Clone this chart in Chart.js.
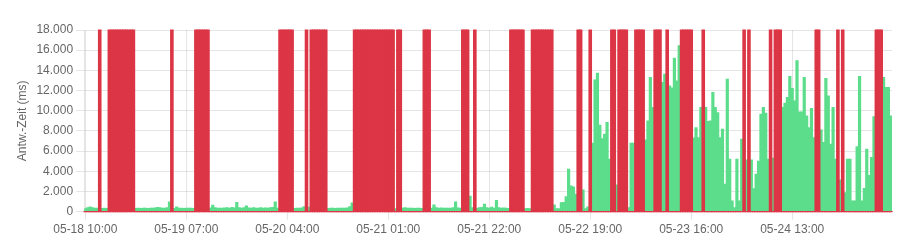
<!DOCTYPE html>
<html>
<head>
<meta charset="utf-8">
<script src="https://cdn.jsdelivr.net/npm/chart.js@4.4.1/dist/chart.umd.min.js"></script>
<style>
    body { margin: 0; background: #fff; }
    #wrap { width: 923px; height: 250px; }
</style>
</head>
<body>
<div id="wrap"><canvas id="pingChart"></canvas></div>
<script>
// one slot = one 30 minute heartbeat, first slot is 05-18 10:00
const startTime = "2024-05-18T10:00:00";
const slotMinutes = 30;

// response time in ms per slot, null = service down
const ping = [
    300, 380, 460, 400, 330, 340, null, 320, 340, 310, null, null,
    null, null, null, null, null, null, null, null, null, 320, 330, 310,
    340, 330, 320, 350, 330, 360, 420, 380, 340, 350, 400, 960,
    null, 320, 460, 340, 330, 320, 350, 330, 340, 320, null, null,
    null, null, null, null, 360, 630, 380, 340, 350, 330, 360, 380,
    350, 420, 360, 900, 400, 350, 380, 560, 360, 340, 380, 330,
    350, 400, 340, 360, 330, 380, 420, 960, 350, null, null, null,
    null, null, null, 310, 330, 340, 360, 500, null, 450, null, null,
    null, null, null, null, null, 320, 330, 340, 310, 330, 350, 330,
    340, 360, 480, 870, null, null, null, null, null, null, null, null,
    null, null, null, null, null, null, null, null, null, 300, null, null,
    330, 380, 340, 330, 350, 320, 340, 330, 320, null, null, null,
    340, 660, 380, 340, 360, 330, 350, 340, 330, 380, 960, 360,
    340, null, null, null, 1520, 400, null, 330, 380, 420, 730, 380,
    340, 450, 350, 1120, 380, 340, 360, 330, 320, null, null, null,
    null, null, null, 300, 310, 300, null, null, null, null, null, null,
    null, null, null, 660, 300, 300, 890, 900, 1490, 4200, 2550, 2450,
    1720, null, null, 2150, 300, 460, null, 6780, 13060, 13720, 8570, 7240,
    7670, 8830, 5190, null, null, 2650, null, null, null, null, 400, 6780,
    6780, null, null, null, null, 7110, 9000, 13300, 10320, null, null, null,
    12800, 13620, null, 12470, 12270, 15210, 12960, 16440, null, null, null, null,
    null, 7310, 8330, 7340, 10320, null, 10320, 8930, 9000, 11810, 10320, 9820,
    7340, 8170, 2710, 13130, 5190, 1060, 400, 5190, 1060, 7180, null, 5130,
    null, 5130, 2280, 3700, 5000, 9660, 10320, 9760, 5190, null, 5300, null,
    null, null, 10320, 10750, 11310, 13390, 12200, 10980, 14950, 9890, 9890, 13300,
    9490, 8330, 10220, 7340, null, null, 8100, 6850, 13200, 11480, 6680, 10320,
    5190, null, 3140, null, 1880, 5190, 5190, 1060, 1060, 6450, 13390, 1060,
    2310, 6180, 3600, 5360, 9420, null, null, null, 13300, 12300, 12300, 9490
];

const tickLabels = ["05-18 10:00", "05-19 07:00", "05-20 04:00", "05-21 01:00",
    "05-21 22:00", "05-22 19:00", "05-23 16:00", "05-24 13:00"];
const tickEvery = 42; // 21 hours

const yTicks = { min: 0, max: 18000, step: 2000 };

function pad(n) {
    return String(n).padStart(2, "0");
}

function slotLabels() {
    const t0 = new Date(startTime).getTime();
    return ping.map((_, i) => {
        const d = new Date(t0 + i * slotMinutes * 60000);
        return `${pad(d.getMonth() + 1)}-${pad(d.getDate())} ${pad(d.getHours())}:${pad(d.getMinutes())}`;
    });
}

function formatDe(v) {
    return String(v).replace(/\B(?=(\d{3})+(?!\d))/g, ".");
}

document.addEventListener("DOMContentLoaded", () => {
    Chart.defaults.font.family = "'Liberation Sans', Arial, sans-serif";
    Chart.defaults.font.size = 12;
    Chart.defaults.color = "#666";

    const downData = ping.map(v => (v === null ? 1 : 0));

    const ctx = document.getElementById("pingChart").getContext("2d");
    new Chart(ctx, {
        type: "bar",
        data: {
            labels: slotLabels(),
            datasets: [
                {
                    label: "ping",
                    data: ping,
                    backgroundColor: "#5cdd8b",
                    borderWidth: 0,
                    yAxisID: "y",
                    grouped: false,
                    barPercentage: 1,
                    categoryPercentage: 1,
                    inflateAmount: 0.4,
                    order: 2
                },
                {
                    label: "status",
                    data: downData,
                    backgroundColor: "#dc3545",
                    borderWidth: 0,
                    yAxisID: "y1",
                    grouped: false,
                    barPercentage: 1,
                    categoryPercentage: 1,
                    inflateAmount: 0.6,
                    clip: 2,
                    order: 1
                }
            ]
        },
        options: {
            responsive: true,
            maintainAspectRatio: false,
            animation: false,
            layout: { padding: { top: 30, right: 31, bottom: 10, left: 11 } },
            plugins: {
                legend: { display: false },
                tooltip: { enabled: false }
            },
            scales: {
                x: {
                    type: "category",
                    offset: true,
                    grid: { offset: false },
                    afterBuildTicks: (scale) => {
                        scale.ticks = scale.ticks.filter(t => t.value % tickEvery === 0);
                    },
                    ticks: {
                        autoSkip: false,
                        maxRotation: 0,
                        callback: (value) => tickLabels[value / tickEvery]
                    }
                },
                y: {
                    min: yTicks.min,
                    max: yTicks.max,
                    ticks: {
                        stepSize: yTicks.step,
                        callback: (value) => formatDe(value)
                    },
                    title: { display: true, text: "Antw.-Zeit (ms)" }
                },
                y1: {
                    display: false,
                    min: 0,
                    max: 1
                }
            }
        }
    });
});
</script>
</body>
</html>
